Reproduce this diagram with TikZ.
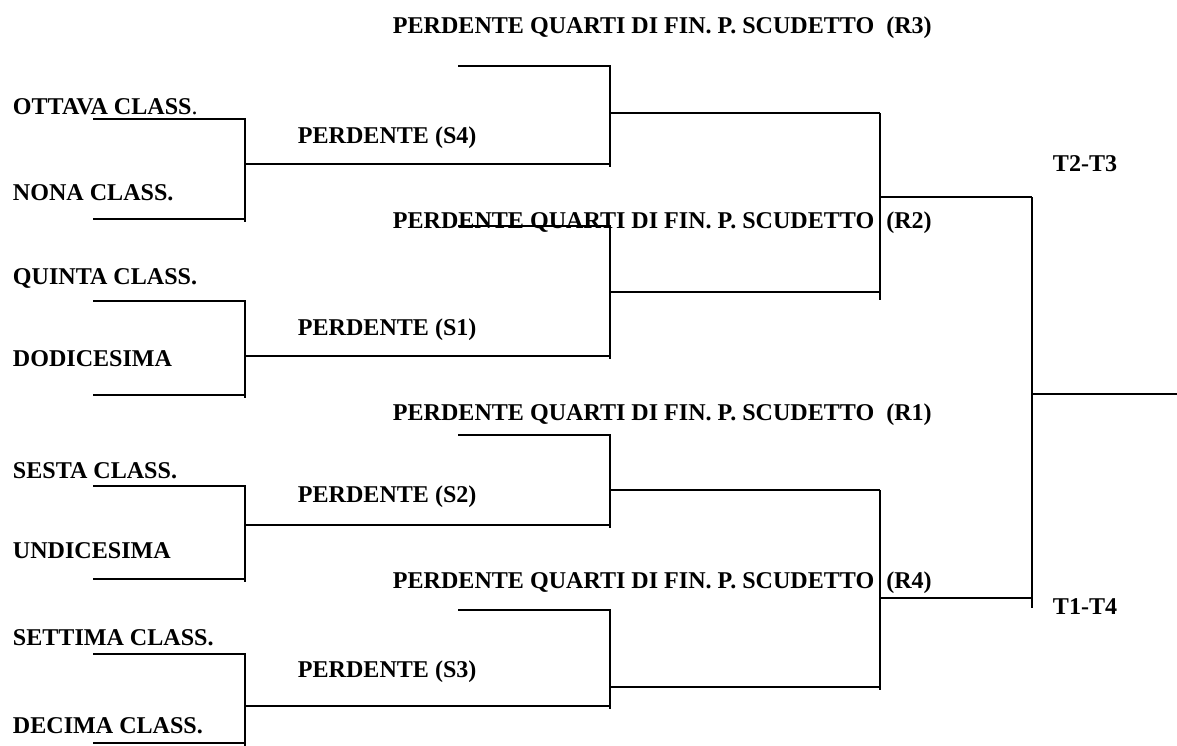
\documentclass[tikz,border=0pt]{standalone}
\usepackage{fontspec}
\setmainfont{Liberation Serif}
\begin{document}
\begin{tikzpicture}[x=0.02cm,y=-0.02cm,line width=1.1pt,
  lbl/.style={anchor=base west,inner sep=0pt,font=\bfseries\fontsize{13.7}{16}\selectfont}]
  \useasboundingbox (0,0) rectangle (1177,745);
  % primo turno
  \foreach \a/\b/\m in {119/219/164, 301/395/356, 486/579/525, 654/743/706}
    \draw (93,\a) -- (245,\a) -- (245,\b+3) (93,\b) -- (245,\b)
          (245,\m) -- (610,\m);
%%%
  % secondo turno
  \foreach \t/\s/\m in {66/164/113, 226/356/292, 435/525/490, 610/706/687}
    \draw (458,\t) -- (610,\t) -- (610,\s+3) (610,\m) -- (880,\m);
%%%
  \draw (880,113) -- (880,300) (880,197) -- (1032,197);
  \draw (880,490) -- (880,690) (880,598) -- (1032,598);
  \draw (1032,197) -- (1032,608) (1032,394) -- (1177,394);
%%%
  \node[lbl] (r3) at (392,33) {PERDENTE QUARTI DI FIN. P. SCUDETTO\ \ (R3)};
  \node[lbl] (r2) at (392,228) {PERDENTE QUARTI DI FIN. P. SCUDETTO\ \ (R2)};
  \node[lbl] (r1) at (392,420) {PERDENTE QUARTI DI FIN. P. SCUDETTO\ \ (R1)};
  \node[lbl] (r4) at (392,588) {PERDENTE QUARTI DI FIN. P. SCUDETTO\ \ (R4)};
  \node[lbl] (s4) at (297,143) {PERDENTE (S4)};
  \node[lbl] (s1) at (297,335) {PERDENTE (S1)};
  \node[lbl] (s2) at (297,502) {PERDENTE (S2)};
  \node[lbl] (s3) at (297,677) {PERDENTE (S3)};
  \node[lbl] (ottava) at (12,114) {OTTAVA CLASS{\mdseries .}};
  \node[lbl] (nona) at (12,200) {NONA CLASS.};
  \node[lbl] (quinta) at (12,284) {QUINTA CLASS.};
  \node[lbl] (dodicesima) at (12,366) {DODICESIMA};
  \node[lbl] (sesta) at (12,478) {SESTA CLASS.};
  \node[lbl] (undicesima) at (12,558) {UNDICESIMA};
  \node[lbl] (settima) at (12,645) {SETTIMA CLASS.};
  \node[lbl] (decima) at (12,733) {DECIMA CLASS.};
  \node[lbl] (t23) at (1052,171) {T2-T3};
  \node[lbl] (t14) at (1052,614) {T1-T4};
\end{tikzpicture}
\end{document}
